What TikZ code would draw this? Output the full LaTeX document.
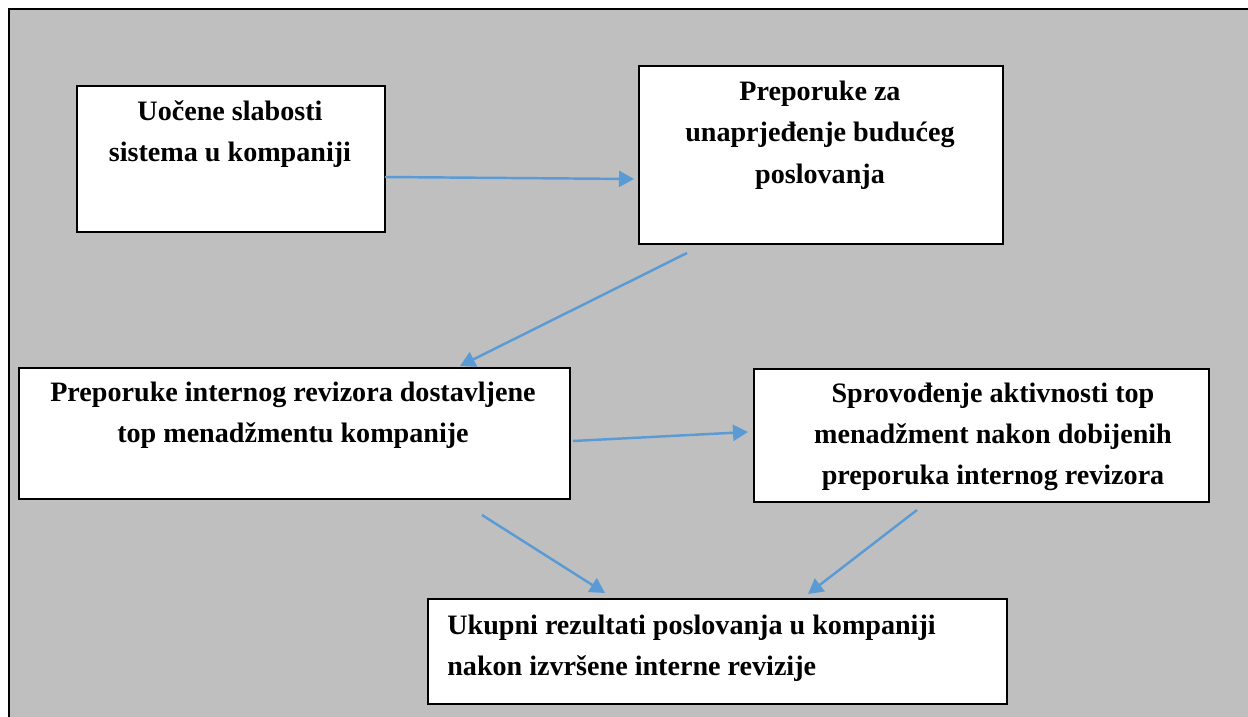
\documentclass[tikz,border=0pt]{standalone}
\usepackage{fontspec}
\setmainfont{Liberation Serif}
\usetikzlibrary{arrows.meta,positioning}
\definecolor{bggray}{HTML}{BFBFBF}
\definecolor{arrblue}{HTML}{5B9BD5}
\begin{document}
\begin{tikzpicture}[x=0.02cm,y=-0.02cm,
  box/.style={draw,line width=1pt,fill=white,inner sep=0pt,anchor=north west},
  txt/.style={align=center,font=\fontsize{16}{23.5}\selectfont\bfseries,inner sep=0pt},
  arr/.style={draw=arrblue,line width=1.4pt,-{Triangle[length=3mm,width=3.2mm]}}]
\useasboundingbox (0,0) rectangle (1248,717);
% background and frame
\fill[bggray] (9,9) rectangle (1248,717);
\draw[line width=1.7pt] (9,717) -- (9,9) -- (1248,9);
% boxes
\node[box,minimum width=6.16cm,minimum height=2.92cm] (slab) at (76,85) {};
\node[box,minimum width=7.28cm,minimum height=3.56cm] (prep) at (638,65) {};
\node[box,minimum width=11.02cm,minimum height=2.62cm] (dost) at (18,367) {};
\node[box,minimum width=9.10cm,minimum height=2.66cm] (sprov) at (753,368) {};
\node[box,minimum width=11.58cm,minimum height=2.10cm] (ukup) at (427,598) {};
% texts
\node[txt] (slabtxt) at (230,134) {Uočene slabosti\\sistema u kompaniji};
\node[txt] (preptxt) at (820,135) {Preporuke za\\unaprjeđenje budućeg\\poslovanja};
\node[txt] (dosttxt) at (293,415) {Preporuke internog revizora dostavljene\\top menadžmentu kompanije};
\node[txt] (sprovtxt) at (993,437) {Sprovođenje aktivnosti top\\menadžment nakon dobijenih\\preporuka internog revizora};
\node[txt,align=left,anchor=west] (ukuptxt) at (447,648) {Ukupni rezultati poslovanja u kompaniji\\nakon izvršene interne revizije};
% arrow ends
\coordinate (a1) at (385,177); \coordinate (b1) at (634,179);
\coordinate (a2) at (687,253); \coordinate (b2) at (460,366);
\coordinate (a3) at (573,441); \coordinate (b3) at (748,432);
\coordinate (a4) at (482,515); \coordinate (b4) at (605,593);
\coordinate (a5) at (917,510); \coordinate (b5) at (808,594);
\draw[arr] (a1) -- (b1);
\draw[arr] (a2) -- (b2);
\draw[arr] (a3) -- (b3);
\draw[arr] (a4) -- (b4);
\draw[arr] (a5) -- (b5);
\end{tikzpicture}
\end{document}
